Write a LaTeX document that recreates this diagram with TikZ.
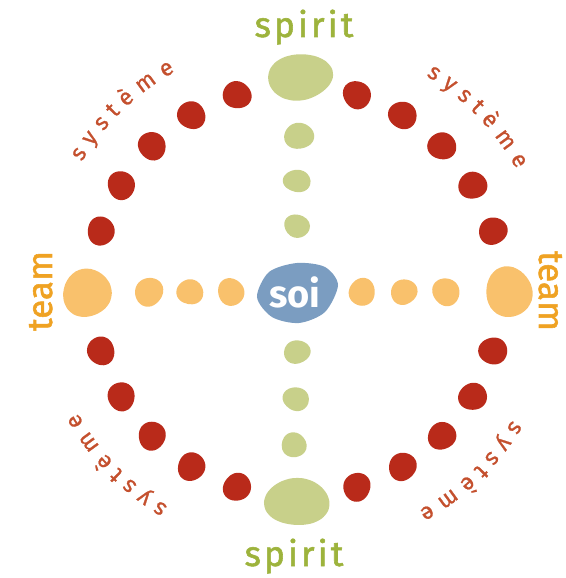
\documentclass[tikz,border=0pt]{standalone}
\usepackage{fontspec}
\setmainfont{Fira Sans}
\newfontfamily\spiritfont[LetterSpace=9,FakeBold=1.6]{Fira Sans}
\newfontfamily\teamfont[FakeBold=1.6]{Fira Sans}
\newfontfamily\sysfont[FakeBold=1.0]{Fira Sans}
\definecolor{dotred}{HTML}{B92A1A}
\definecolor{systext}{HTML}{C4502E}
\definecolor{blobgreen}{HTML}{C8D08A}
\definecolor{spirittext}{HTML}{9DB33C}
\definecolor{bloborange}{HTML}{F9C16C}
\definecolor{teamtext}{HTML}{EFA223}
\definecolor{blobblue}{HTML}{7B9DC1}
\newcommand\myblob[6]{%
  \fill[#1] plot[smooth cycle, domain=0:340, samples=18, variable=\t]
  ({#2+#4*cos(\t)*(1+0.04*sin(2*\t+#6)+0.025*sin(3*\t+2*#6))},
   {#3+#5*sin(\t)*(1+0.04*sin(2*\t+#6)+0.025*sin(3*\t+2*#6))});}
\tikzset{
  spiritlabel/.style={text=spirittext, font=\spiritfont\fontsize{35}{35}\selectfont, anchor=base, inner sep=0pt},
  teamlabel/.style={text=teamtext, font=\teamfont\fontsize{35}{35}\selectfont, anchor=base, inner sep=0pt},
  syslabel/.style={text=systext, font=\sysfont\fontsize{23}{23}\selectfont, anchor=base, inner sep=0pt},
  soilabel/.style={text=white, font=\bfseries\fontsize{38}{38}\selectfont, inner sep=0pt}
}
\begin{document}
\begin{tikzpicture}[x=1pt,y=1pt]
\useasboundingbox (-297,-287) rectangle (268,291);
% red dots on the circle
\foreach \q in {0,90,180,270}{
  \foreach \d [count=\k] in {-28,-14,0,14,28}{
    \myblob{dotred}{205*cos(\q+45+\d)}{205*sin(\q+45+\d)}{14}{14}{\k*37+\q}
  }
}
% green vertical
\myblob{blobgreen}{3}{214}{32}{23.5}{20}
\myblob{blobgreen}{2}{155}{14.5}{13.5}{70}
\myblob{blobgreen}{0}{110}{13.5}{11.5}{130}
\myblob{blobgreen}{0}{65}{13}{11.5}{200}
\myblob{blobgreen}{0}{-61}{13}{12}{40}
\myblob{blobgreen}{-1}{-108}{13}{12}{160}
\myblob{blobgreen}{-3}{-154}{13}{12}{250}
\myblob{blobgreen}{0}{-211}{31.5}{24.5}{100}
% orange horizontal
\myblob{bloborange}{-210}{-2}{23.5}{25}{60}
\myblob{bloborange}{-148}{-1}{14}{14.5}{10}
\myblob{bloborange}{-107}{-1}{13}{13}{110}
\myblob{bloborange}{-66}{-1}{13.5}{13.5}{220}
\myblob{bloborange}{65}{-1}{13.5}{13.5}{300}
\myblob{bloborange}{107}{-1}{13}{13}{30}
\myblob{bloborange}{149}{-1}{13.5}{14}{170}
\myblob{bloborange}{212}{-1}{24}{24.5}{240}
% soi blob
\fill[blobblue] plot[smooth cycle] coordinates {(-40,-6) (-28,19) (0,28) (28,24) (41,6) (28,-21) (2,-32) (-25,-26)};
\node[soilabel] (soi) at (-2,-1) {soi};
% labels
\node[spiritlabel] (spirittop) at (7,254) {spirit};
\node[spiritlabel] (spiritbottom) at (-3,-275) {spirit};
\node[teamlabel, rotate=90] (teamleft) at (-245,0) {team};
\node[teamlabel, rotate=-90] (teamright) at (242,0) {team};
\foreach \a in {134,44,314,224}{
  \foreach \ch/\o [count=\i] in {s/-13.8, y/-9.55, s/-5.33, t/-1.55, è/2.44, m/8.0, e/13.55}{
    \node[syslabel, rotate={\a-(\o)-90}] (sys\a-\i) at ({\a-(\o)}:251) {\ch};
  }
}
\end{tikzpicture}
\end{document}
